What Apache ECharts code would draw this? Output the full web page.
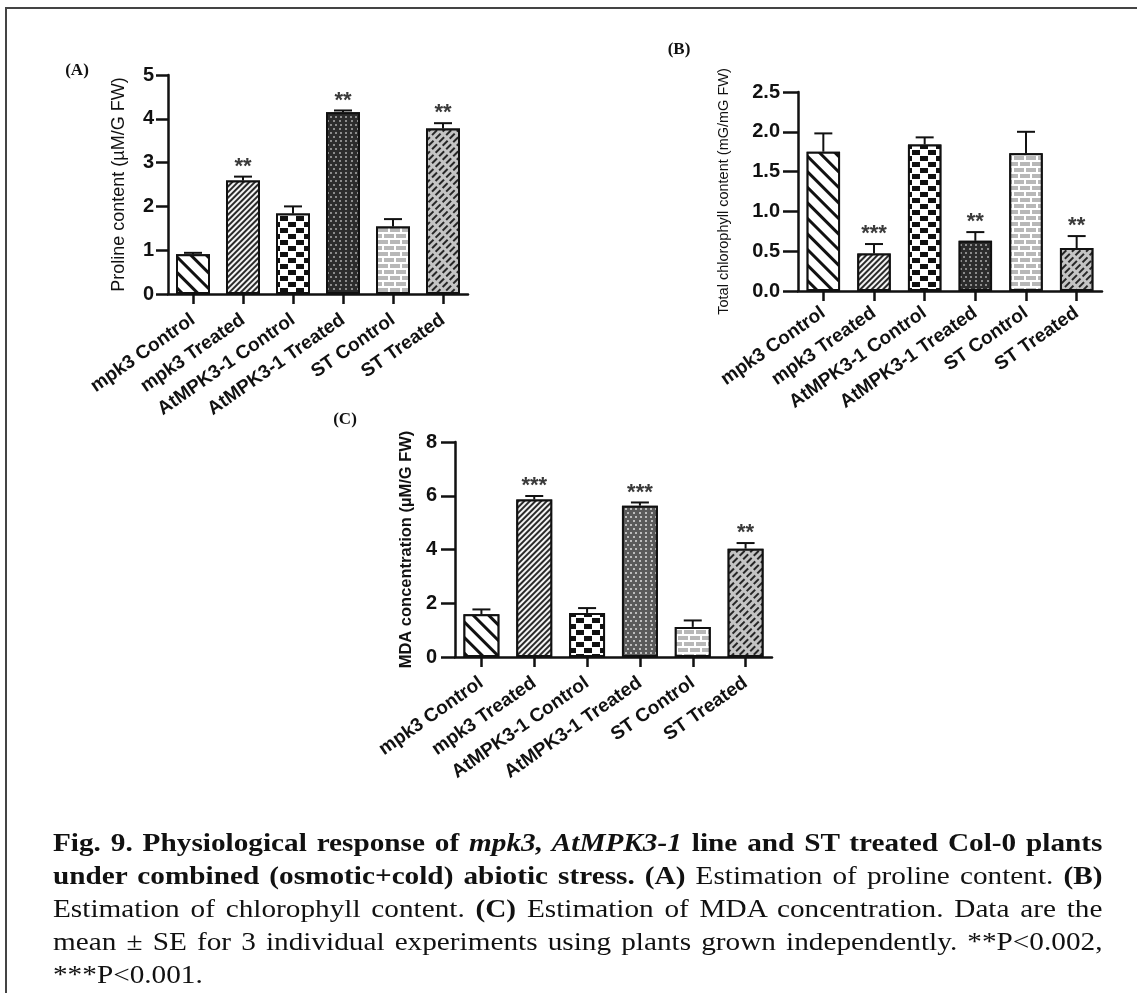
<!DOCTYPE html>
<html><head><meta charset="utf-8">
<script src="https://cdn.jsdelivr.net/npm/echarts@6/dist/echarts.min.js"></script>
<style>
html,body{margin:0;padding:0;background:#fff;}
#chart{position:absolute;left:0;top:0;width:1137px;height:993px;}
#caption{position:absolute;left:53px;top:826px;width:897px;transform:scaleX(1.17);transform-origin:0 0;font-family:'Liberation Serif','Times New Roman',serif;font-size:25px;line-height:33px;color:#111;}
#caption div{white-space:nowrap;text-align:justify;text-align-last:justify;}
#caption div.last{text-align-last:left;}
</style></head><body>
<div id="chart"></div>
<div id="caption">
<div><b>Fig. 9. Physiological response of <i>mpk3, AtMPK3-1</i> line and ST treated Col-0 plants</b></div>
<div><b>under combined (osmotic+cold) abiotic stress. (A)</b> Estimation of proline content. <b>(B)</b></div>
<div>Estimation of chlorophyll content. <b>(C)</b> Estimation of MDA concentration. Data are the</div>
<div>mean ± SE for 3 individual experiments using plants grown independently. **P&lt;0.002,</div>
<div class="last">***P&lt;0.001.</div>
</div>
<script>
const categories = ['mpk3 Control', 'mpk3 Treated', 'AtMPK3-1 Control', 'AtMPK3-1 Treated', 'ST Control', 'ST Treated'];

const prolineMean = [0.91, 2.59, 1.84, 4.15, 1.54, 3.78];
const prolineSE   = [0.03, 0.09, 0.16, 0.04, 0.17, 0.12];
const prolineSig  = ['', '**', '', '**', '', '**'];
const prolineTicks = { min: 0, max: 5, interval: 1 };

const chlMean = [1.75, 0.47, 1.84, 0.63, 1.73, 0.54];
const chlSE   = [0.23, 0.12, 0.09, 0.11, 0.27, 0.15];
const chlSig  = ['', '***', '', '**', '', '**'];
const chlTicks = { min: 0, max: 2.5, interval: 0.5 };

const mdaMean = [1.59, 5.86, 1.64, 5.63, 1.12, 4.03];
const mdaSE   = [0.18, 0.13, 0.18, 0.12, 0.24, 0.21];
const mdaSig  = ['', '***', '', '***', '', '**'];
const mdaTicks = { min: 0, max: 8, interval: 2 };

const FONT = '"Liberation Sans", Arial, sans-serif';

function makeDecals(bg4, fg4) {
  return [
    { symbol: 'rect', symbolSize: 1, dashArrayX: [1, 0], dashArrayY: [3, 7.5], rotation: Math.PI / 4, color: '#111', backgroundColor: '#fff' },
    { symbol: 'rect', symbolSize: 1, dashArrayX: [1, 0], dashArrayY: [1.5, 1.7], rotation: -Math.PI / 4, color: '#2a2a2a', backgroundColor: '#f4f4f4' },
    { symbol: 'rect', symbolSize: 1, dashArrayX: [[8, 8], [0, 8, 8, 0]], dashArrayY: [5, 1], color: '#111', backgroundColor: '#fff' },
    { symbol: 'rect', symbolSize: 1, dashArrayX: [[2, 3], [0, 2.5, 2, 0.5]], dashArrayY: [1.5, 2], color: fg4, backgroundColor: bg4 },
    { symbol: 'rect', symbolSize: 1, dashArrayX: [[10, 2], [4, 2, 6, 0]], dashArrayY: [4, 1.5], color: '#b8b8b8', backgroundColor: '#fff' },
    { symbol: 'rect', symbolSize: 1, dashArrayX: [7, 2.5], dashArrayY: [2, 2.2], rotation: -Math.PI / 4, color: '#262626', backgroundColor: '#c4c4c4' }
  ];
}

const panels = [
  { grid: { left: 168, top: 75, width: 300, height: 219 }, ticks: prolineTicks, fmt: v => String(v),
    name: 'Proline content (µM/G FW)', nameGap: 40, nameSize: 18, nameWeight: 'normal', labelMargin: 24,
    mean: prolineMean, se: prolineSE, sig: prolineSig, tickLen: 12, yMargin: 14, barWidth: '68%', bg4: '#2c2c2c', fg4: '#8c8c8c' },
  { grid: { left: 798, top: 92, width: 304, height: 199 }, ticks: chlTicks, fmt: v => v.toFixed(1),
    name: 'Total chlorophyll content (mG/mG FW)', nameGap: 67, nameSize: 14.5, nameWeight: 'normal', labelMargin: 20,
    mean: chlMean, se: chlSE, sig: chlSig, tickLen: 15, yMargin: 18, barWidth: '66%', bg4: '#2c2c2c', fg4: '#8c8c8c' },
  { grid: { left: 455, top: 442, width: 317, height: 215 }, ticks: mdaTicks, fmt: v => String(v),
    name: 'MDA concentration (µM/G FW)', nameGap: 40, nameSize: 16.5, nameWeight: 'bold', labelMargin: 24,
    mean: mdaMean, se: mdaSE, sig: mdaSig, tickLen: 14, yMargin: 18, barWidth: '68%', bg4: '#5a5a5a', fg4: '#bdbdbd' }
];

const grids = [], xAxes = [], yAxes = [], series = [];
panels.forEach((P, k) => {
  grids.push(Object.assign({ outerBoundsMode: 'none', containLabel: false }, P.grid));
  xAxes.push({
    type: 'category', gridIndex: k, data: categories,
    axisLine: { lineStyle: { color: '#111', width: 2.5 } },
    axisTick: { show: true, alignWithLabel: true, length: 10, lineStyle: { color: '#111', width: 2.5 } },
    axisLabel: { interval: 0, rotate: 35, margin: P.labelMargin, color: '#111', fontFamily: FONT, fontWeight: 'bold', fontSize: 19 },
    splitLine: { show: false }
  });
  yAxes.push({
    type: 'value', gridIndex: k, min: P.ticks.min, max: P.ticks.max, interval: P.ticks.interval,
    name: P.name, nameLocation: 'middle', nameRotate: 90, nameGap: P.nameGap, nameMoveOverlap: false,
    nameTextStyle: { color: '#111', fontFamily: FONT, fontSize: P.nameSize, fontWeight: P.nameWeight },
    axisLine: { show: true, lineStyle: { color: '#111', width: 2.5 } },
    axisTick: { show: true, length: P.tickLen, lineStyle: { color: '#111', width: 2.5 } },
    axisLabel: { margin: P.yMargin, color: '#111', fontFamily: FONT, fontWeight: 'bold', fontSize: 20, formatter: P.fmt },
    splitLine: { show: false }
  });
  const decals = makeDecals(P.bg4, P.fg4);
  series.push({
    type: 'bar', xAxisIndex: k, yAxisIndex: k, barWidth: P.barWidth, silent: true,
    data: P.mean.map((v, i) => ({ value: v, itemStyle: { color: '#fff', borderColor: '#111', borderWidth: 2, decal: decals[i] } })),
    z: 2
  });
  series.push({
    type: 'custom', xAxisIndex: k, yAxisIndex: k, silent: true, z: 3,
    data: P.mean.map((v, i) => [i, v, P.se[i]]),
    renderItem: function (params, api) {
      const i = api.value(0), m = api.value(1), s = api.value(2);
      const base = api.coord([i, m]);
      const top = api.coord([i, m + s]);
      const x = base[0], hw = 9;
      const children = [
        { type: 'line', shape: { x1: x, y1: base[1], x2: x, y2: top[1] }, style: { stroke: '#111', lineWidth: 2 } },
        { type: 'line', shape: { x1: x - hw, y1: top[1], x2: x + hw, y2: top[1] }, style: { stroke: '#111', lineWidth: 2 } }
      ];
      const sig = P.sig[params.dataIndex];
      if (sig) {
        children.push({ type: 'text', style: { text: sig, x: x, y: top[1] - 10, align: 'center', verticalAlign: 'middle', font: 'bold 22px ' + FONT, fill: '#3a3a3a' } });
      }
      return { type: 'group', children: children };
    }
  });
});

const chart = echarts.init(document.getElementById('chart'), null, { renderer: 'canvas', width: 1137, height: 993 });
chart.setOption({
  animation: false,
  backgroundColor: '#fff',
  grid: grids, xAxis: xAxes, yAxis: yAxes, series: series,
  graphic: [
    { type: 'line', shape: { x1: 5, y1: 8, x2: 1137, y2: 8 }, style: { stroke: '#444', lineWidth: 2 } },
    { type: 'line', shape: { x1: 6, y1: 8, x2: 6, y2: 993 }, style: { stroke: '#444', lineWidth: 2 } },
    { type: 'text', x: 77, y: 71, style: { text: '(A)', font: 'bold 17px "Liberation Serif", serif', align: 'center', verticalAlign: 'middle', fill: '#111' } },
    { type: 'text', x: 679, y: 50, style: { text: '(B)', font: 'bold 17px "Liberation Serif", serif', align: 'center', verticalAlign: 'middle', fill: '#111' } },
    { type: 'text', x: 345, y: 420, style: { text: '(C)', font: 'bold 17px "Liberation Serif", serif', align: 'center', verticalAlign: 'middle', fill: '#111' } }
  ]
});
</script>
</body></html>
